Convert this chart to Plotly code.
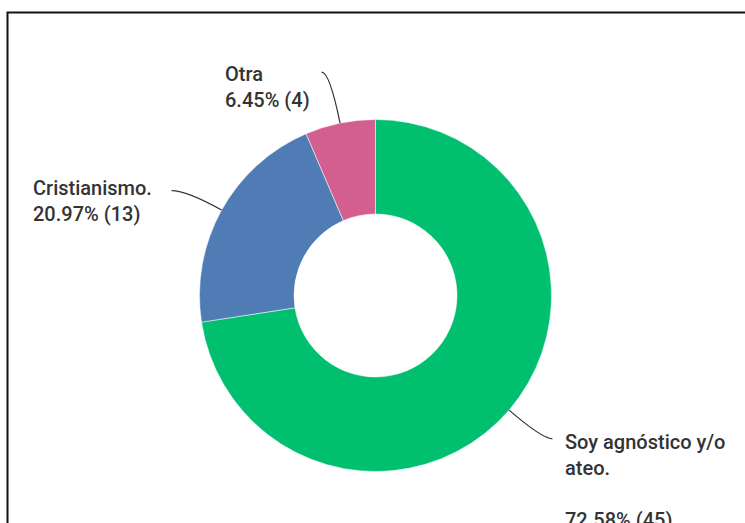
import math
import plotly.graph_objects as go

# Survey answers
categories = ["Soy agnóstico y/o ateo.", "Cristianismo.", "Otra"]
counts = [45, 13, 4]
percents = [72.58, 20.97, 6.45]
colors = ["#00BF6F", "#507CB6", "#D25F90"]

W, H = 745, 523
CX, CY, R = 375.5, 295.5, 176.0
HOLE = 0.463

# leader line styling per slice: radial reach beyond the rim, horizontal tail
leader_reach = [44, 40, 52]
leader_tail = [10, -15, -8]


def px(x):
    return x / W


def py(y):
    return 1 - y / H


fig = go.Figure(
    go.Pie(
        labels=categories,
        values=counts,
        marker=dict(colors=colors, line=dict(color="white", width=0.5)),
        hole=HOLE,
        sort=False,
        direction="clockwise",
        rotation=0,
        textinfo="none",
        hoverinfo="label+percent+value",
        domain=dict(x=[px(CX - R), px(CX + R)], y=[py(CY + R), py(CY - R)]),
        showlegend=False,
    )
)

# curved leader lines from each slice's middle on the outer rim
shapes = []
total = sum(counts)
acc = 0
for i, v in enumerate(counts):
    mid = (acc + v / 2) / total * 2 * math.pi
    acc += v
    sx, sy = math.sin(mid), -math.cos(mid)
    x0, y0 = CX + R * sx, CY + R * sy
    rr = R + leader_reach[i]
    x1, y1 = CX + rr * sx, CY + rr * sy
    x2, y2 = x1 + leader_tail[i], y1
    path = (f"M {px(x0):.5f},{py(y0):.5f} Q {px(x1):.5f},{py(y1):.5f} "
            f"{px(x2):.5f},{py(y2):.5f}")
    shapes.append(dict(type="path", path=path, xref="paper", yref="paper",
                       line=dict(color="#333333", width=1.2)))

# outer frame
shapes.append(dict(type="rect", xref="paper", yref="paper",
                   x0=px(7.5), y0=py(12.5), x1=1.2, y1=-0.2,
                   line=dict(color="#111111", width=2)))

label_text = [
    f"{categories[0].replace(' y/o ', ' y/o<br>')}<br><br>{percents[0]:.2f}% ({counts[0]})",
    f"{categories[1]}<br>{percents[1]:.2f}% ({counts[1]})",
    f"{categories[2]}<br>{percents[2]:.2f}% ({counts[2]})",
]
label_pos = [(563, 428), (31, 174), (223, 60)]

annotations = []
for t, (lx, ly) in zip(label_text, label_pos):
    annotations.append(dict(
        text=t, x=px(lx), y=py(ly), xref="paper", yref="paper",
        xanchor="left", yanchor="top", align="left", showarrow=False,
        font=dict(family="Roboto", size=20, color="#333333", weight=500),
    ))

fig.update_layout(
    width=W, height=H,
    margin=dict(l=0, r=0, t=0, b=0),
    paper_bgcolor="white",
    plot_bgcolor="white",
    shapes=shapes,
    annotations=annotations,
)

fig.write_html("out.html")
